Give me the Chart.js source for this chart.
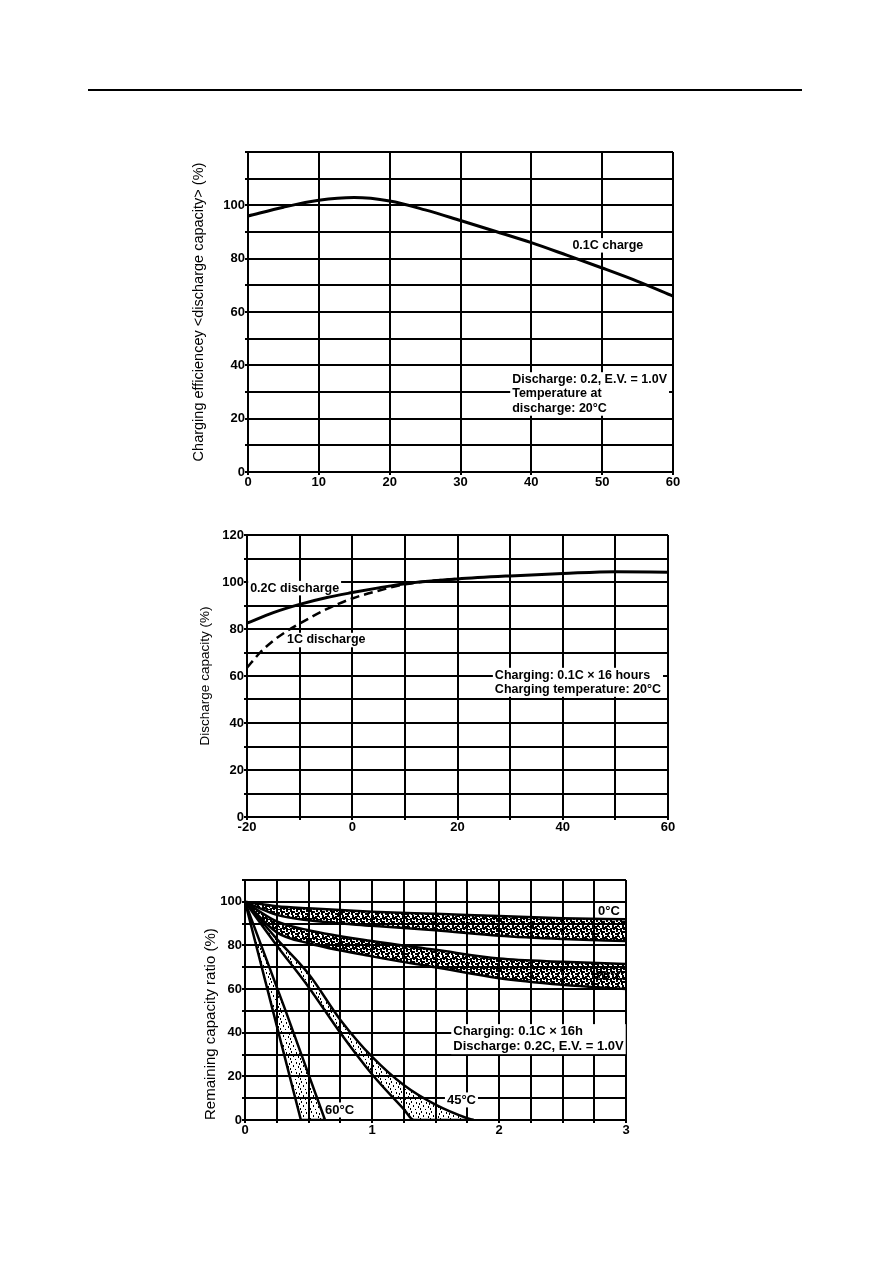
<!DOCTYPE html>
<html>
<head>
<meta charset="utf-8">
<script src="https://cdn.jsdelivr.net/npm/chart.js"></script>
<style>
body{margin:0;background:#fff;}
#page{position:relative;width:893px;height:1263px;overflow:hidden;background:#fff;}
.rule{position:absolute;left:88px;top:89px;width:714px;height:2px;background:#000;}
canvas{position:absolute;left:0;}
</style>
</head>
<body>
<div id="page">
  <div class="rule"></div>
  <canvas id="c1" width="893" height="380" style="top:120px"></canvas>
  <canvas id="c2" width="893" height="345" style="top:500px"></canvas>
  <canvas id="c3" width="893" height="300" style="top:850px"></canvas>
</div>
<script>
// ---- chart 1: charging efficiency vs charge temperature
const effTemp = [0, 5, 10, 15, 20, 25, 30, 35, 40, 45, 50, 55, 60];
const effCharge = [96, 99.3, 101.9, 102.9, 101.6, 98.3, 94.3, 90.2, 86, 81.3, 76.5, 71.5, 66];

// ---- chart 2: discharge capacity vs discharge temperature
const dischTemp = [-20, -15, -10, -5, 0, 5, 10, 20, 30, 40, 50, 60];
const disch02C = [82.5, 87, 90.5, 93.3, 95.5, 97.5, 99.3, 101.3, 102.6, 103.6, 104.4, 104.2];
const dischTemp1C = [-20, -17.5, -15, -12.5, -10, -5, 0, 5, 10, 15, 20];
const disch1C = [63.5, 70, 75, 79, 82.3, 88.3, 93, 96.3, 99, 100.5, 101.3];

// ---- chart 3: remaining capacity vs storage time (bands per temperature)
const storeT = [0, 0.25, 0.5, 1, 1.5, 2, 2.5, 3];
const t0Upper = [100, 98, 97, 95.5, 94.5, 93.5, 92.5, 92];
const t0Lower = [100, 94, 91.5, 89, 87, 84.5, 83, 82];
const t20Upper = [100, 91, 87, 82, 78, 74, 72.5, 71.5];
const t20Lower = [100, 86, 81, 75, 70, 65, 62, 60];
const t60InnerT = [0, 0.22, 0.44, 0.63];
const t60Inner = [100, 50, 0, 0];
const t60OuterT = [0, 0.32, 0.63];
const t60Outer = [100, 50, 0];
const t45InnerT = [0, 0.25, 0.5, 0.75, 1.0, 1.25, 1.33, 1.8];
const t45Inner = [100, 80, 61, 40, 21, 5, 0, 0];
const t45OuterT = [0, 0.25, 0.5, 0.75, 1.0, 1.25, 1.5, 1.75, 1.8];
const t45Outer = [100, 83, 67, 46, 29, 16, 7, 0.8, 0];

// text notes, in data units
const notes1 = [
  {x: 45.8, y: 85, text: '0.1C charge', bg: true},
  {x: 37.3, y: 34.7, text: 'Discharge: 0.2, E.V. = 1.0V\nTemperature at\ndischarge: 20°C', bg: true}
];
const notes2 = [
  {x: -19.4, y: 97.4, text: '0.2C discharge', bg: true},
  {x: -12.4, y: 75.3, text: '1C discharge', bg: true},
  {x: 27.1, y: 60.4, text: 'Charging: 0.1C × 16 hours\nCharging temperature: 20°C', bg: true}
];
const notes3 = [
  {x: 2.78, y: 95.8, text: '0°C', bg: true},
  {x: 2.76, y: 66, text: '20°C', bg: false},
  {x: 1.64, y: 40.5, text: 'Charging: 0.1C × 16h\nDischarge: 0.2C, E.V. = 1.0V', bg: true},
  {x: 0.63, y: 4.6, text: '60°C', bg: true},
  {x: 1.59, y: 9.2, text: '45°C', bg: true}
];

const FONT = '"Liberation Sans", Arial, sans-serif';

const pts = (xs, ys) => xs.map((x, i) => ({x: x, y: ys[i]}));

function drawNotes(chart, items, size) {
  const ctx = chart.ctx, xs = chart.scales.x, ys = chart.scales.y;
  ctx.save();
  ctx.font = 'bold ' + size + 'px ' + FONT;
  ctx.textBaseline = 'middle';
  items.forEach(n => {
    const lines = n.text.split('\n');
    const px = xs.getPixelForValue(n.x), py = ys.getPixelForValue(n.y);
    const lh = size + 2;
    const w = Math.max(...lines.map(l => ctx.measureText(l).width));
    if (n.bg) {
      ctx.fillStyle = '#fff';
      ctx.fillRect(px - 2, py - size / 2 - 1, w + 4, lh * (lines.length - 1) + size + 2);
    }
    ctx.fillStyle = '#000';
    lines.forEach((l, i) => ctx.fillText(l, px, py + i * lh));
  });
  ctx.restore();
}

const notesPlugin = {
  id: 'notes',
  beforeDatasetsDraw(chart, args, opts) { drawNotes(chart, opts.items.filter(n => n.bg), opts.size); },
  afterDatasetsDraw(chart, args, opts) { drawNotes(chart, opts.items.filter(n => !n.bg), opts.size); }
};

function stipple(dots, w) {
  const c = document.createElement('canvas');
  c.width = 10; c.height = 10;
  const g = c.getContext('2d');
  g.fillStyle = '#000';
  dots.forEach(d => g.fillRect(d[0], d[1], w, 2));
  return g.createPattern(c, 'repeat');
}
const denseDots = stipple([[0,0],[3,1],[6,0],[8,2],[1,3],[5,3],[2,5],[7,5],[9,6],[4,7],[0,8],[6,8],[3,9],[8,9],[1,1],[5,6],[7,3],[2,7]], 2);
const lightDots = stipple([[1,1],[6,2],[3,5],[8,6],[0,8],[5,9],[9,3]], 1);

function axes(o) {
  const grid = {color: '#000', lineWidth: 2, tickLength: 3, tickColor: '#000'};
  return {
    x: {
      type: 'linear', min: o.xmin, max: o.xmax,
      afterFit: s => { s.height = 20; },
      grid: grid,
      border: {color: '#000', width: 2},
      ticks: {
        stepSize: o.xstep, padding: 0, color: '#000', maxRotation: 0, autoSkip: false,
        font: {family: FONT, size: 13, weight: 'bold'},
        callback: o.xlabel
      }
    },
    y: {
      min: 0, max: o.ymax,
      afterFit: s => { s.width = o.yw; },
      grid: grid,
      border: {color: '#000', width: 2},
      title: {display: true, text: o.title, color: '#000', padding: 0, align: o.talign || 'center',
              font: {family: FONT, size: o.tsize}},
      ticks: {
        stepSize: 10, padding: 0, color: '#000', autoSkip: false,
        font: {family: FONT, size: 13, weight: 'bold'},
        callback: o.ylabel
      }
    }
  };
}

const line = (data, extra) => Object.assign({
  data: data, borderColor: '#000', borderWidth: 3, pointRadius: 0,
  cubicInterpolationMode: 'monotone', fill: false
}, extra || {});

Chart.defaults.animation = false;

new Chart(document.getElementById('c1'), {
  type: 'line',
  data: {datasets: [line(pts(effTemp, effCharge))]},
  options: {
    responsive: false,
    layout: {padding: {left: 190, right: 220, top: 32, bottom: 8}},
    plugins: {legend: {display: false}, tooltip: {enabled: false}, notes: {items: notes1, size: 12.5}},
    scales: axes({
      xmin: 0, xmax: 60, xstep: 10, xlabel: v => v,
      ymax: 120, yw: 58, tsize: 14.5,
      title: 'Charging efficiencey <discharge capacity> (%)',
      ylabel: v => (v % 20 === 0 && v <= 100) ? v : ''
    })
  },
  plugins: [notesPlugin]
});

new Chart(document.getElementById('c2'), {
  type: 'line',
  data: {datasets: [
    line(pts(dischTemp, disch02C)),
    line(pts(dischTemp1C, disch1C), {borderDash: [9, 5], borderWidth: 2.5})
  ]},
  options: {
    responsive: false,
    layout: {padding: {left: 197, right: 225, top: 35, bottom: 8}},
    plugins: {legend: {display: false}, tooltip: {enabled: false}, notes: {items: notes2, size: 12.5}},
    scales: axes({
      xmin: -20, xmax: 60, xstep: 10, xlabel: v => (v % 20 === 0) ? v : '',
      ymax: 120, yw: 50, tsize: 13.5,
      title: 'Discharge capacity (%)',
      ylabel: v => (v % 20 === 0) ? v : ''
    })
  },
  plugins: [notesPlugin]
});

new Chart(document.getElementById('c3'), {
  type: 'line',
  data: {datasets: [
    line(pts(storeT, t0Upper), {borderWidth: 2.5}),
    line(pts(storeT, t0Lower), {borderWidth: 2.5, fill: '-1', backgroundColor: denseDots}),
    line(pts(storeT, t20Upper), {borderWidth: 2.5}),
    line(pts(storeT, t20Lower), {borderWidth: 2.5, fill: '-1', backgroundColor: denseDots}),
    line(pts(t60InnerT, t60Inner), {borderWidth: 2.5, cubicInterpolationMode: 'default', tension: 0}),
    line(pts(t60OuterT, t60Outer), {borderWidth: 2.5, cubicInterpolationMode: 'default', tension: 0, fill: '-1', backgroundColor: lightDots}),
    line(pts(t45InnerT, t45Inner), {borderWidth: 2.5}),
    line(pts(t45OuterT, t45Outer), {borderWidth: 2.5, fill: '-1', backgroundColor: lightDots})
  ]},
  options: {
    responsive: false,
    layout: {padding: {left: 202, right: 267, top: 30, bottom: 10}},
    plugins: {legend: {display: false}, tooltip: {enabled: false}, notes: {items: notes3, size: 13}},
    scales: axes({
      xmin: 0, xmax: 3, xstep: 0.25, xlabel: v => Number.isInteger(v) ? v : '',
      ymax: 110, yw: 43, tsize: 15, talign: 'start',
      title: 'Remaining capacity ratio (%)',
      ylabel: v => (v % 20 === 0) ? v : ''
    })
  },
  plugins: [notesPlugin]
});
</script>
</body>
</html>
